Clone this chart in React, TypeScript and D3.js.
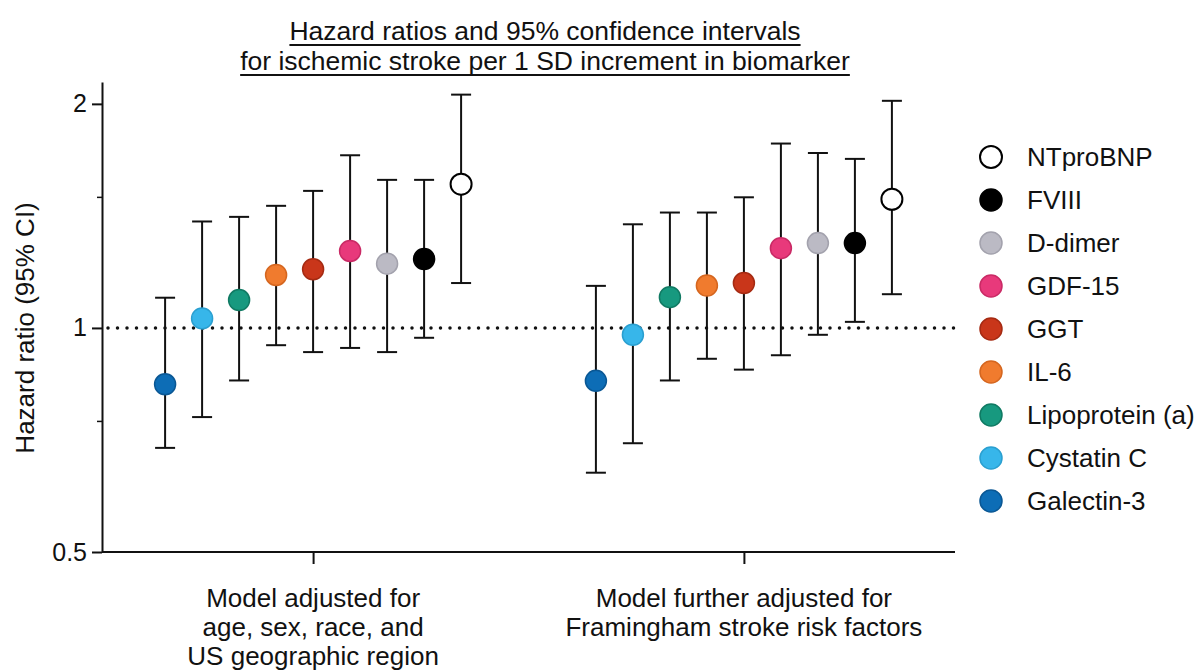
import React, { useEffect, useRef } from 'react';
import * as d3 from 'd3';

const titleLines = [
  'Hazard ratios and 95% confidence intervals',
  'for ischemic stroke per 1 SD increment in biomarker',
];
const groups = ['base', 'framingham'];
const groupLabels = [
  ['Model adjusted for', 'age, sex, race, and', 'US geographic region'],
  ['Model further adjusted for', 'Framingham stroke risk factors'],
];
const biomarkers = ['Galectin-3', 'Cystatin C', 'Lipoprotein (a)', 'IL-6', 'GGT', 'GDF-15', 'D-dimer', 'FVIII', 'NTproBNP'];
const fills = ['#0d6db6', '#37b6ea', '#17997f', '#f07b2e', '#c9361a', '#e8397b', '#bbbac4', '#000000', '#ffffff'];
const outlines = ['#0a5794', '#2a9fd0', '#107a63', '#d5661f', '#a52a12', '#c92a65', '#a3a2ad', '#000000', '#000000'];

// hazard ratio, lower and upper 95% CI, per model
const hrBase = [0.84, 1.03, 1.09, 1.178, 1.199, 1.269, 1.22, 1.238, 1.56];
const loBase = [0.69, 0.759, 0.85, 0.948, 0.928, 0.94, 0.928, 0.97, 1.149];
const hiBase = [1.098, 1.39, 1.41, 1.459, 1.528, 1.706, 1.581, 1.581, 2.058];
const hrFram = [0.849, 0.979, 1.1, 1.14, 1.149, 1.28, 1.3, 1.3, 1.489];
const loFram = [0.639, 0.7, 0.85, 0.909, 0.879, 0.919, 0.979, 1.019, 1.11];
const hiFram = [1.139, 1.378, 1.429, 1.429, 1.498, 1.769, 1.718, 1.687, 2.019];

const yTicks = [0.5, 1, 2];
const yMinorTicks = [0.75, 1.5];

const FONT = '"Liberation Sans", Arial, sans-serif';

function App() {
  const ref = useRef<SVGSVGElement>(null);

  useEffect(() => {
    const width = 1198;
    const height = 670;
    const left = 102;
    const right = 955;
    const bottom = 552;
    const top = 82;

    const svg = d3.select(ref.current);
    svg.selectAll('*').remove();
    svg.attr('width', width).attr('height', height);

    const y = d3.scaleLog().base(2).domain([0.5, 2.14]).range([bottom, top]);
    const x = d3.scalePoint<string>().domain(groups).range([left, right]).padding(0.49);
    const inner = d3.scalePoint<string>().domain(biomarkers).range([-148, 148]);

    const rows = [
      { hr: hrBase, lo: loBase, hi: hiBase },
      { hr: hrFram, lo: loFram, hi: hiFram },
    ];
    const points = groups.flatMap((g, gi) =>
      biomarkers.map((b, i) => ({
        g, b, i,
        hr: rows[gi].hr[i], lo: rows[gi].lo[i], hi: rows[gi].hi[i],
      }))
    );

    // Title
    const title = svg.append('g');
    titleLines.forEach((line, i) => {
      const t = title.append('text')
        .attr('x', 545)
        .attr('y', 40 + i * 30)
        .attr('text-anchor', 'middle')
        .style('font-family', FONT)
        .style('font-size', '26.5px')
        .attr('fill', '#111')
        .text(line);
      const w = (t.node() as SVGTextElement).getComputedTextLength();
      title.append('line')
        .attr('x1', 545 - w / 2).attr('x2', 545 + w / 2)
        .attr('y1', 45 + i * 30).attr('y2', 45 + i * 30)
        .attr('stroke', '#111').attr('stroke-width', 2);
    });

    // Y axis
    const yAxis = svg.append('g')
      .attr('transform', `translate(${left},0)`)
      .call(d3.axisLeft(y).tickValues(yTicks).tickFormat(d3.format('')).tickSize(10).tickPadding(5).tickSizeOuter(0));
    yAxis.select('.domain').attr('stroke', '#111').attr('stroke-width', 2);
    yAxis.selectAll('.tick line').attr('stroke', '#111').attr('stroke-width', 2);
    yAxis.selectAll('.tick text')
      .style('font-family', FONT).style('font-size', '25px').attr('fill', '#111');

    svg.append('g')
      .attr('transform', `translate(${left},0)`)
      .call(d3.axisLeft(y).tickValues(yMinorTicks).tickFormat(() => '').tickSize(5).tickSizeOuter(0))
      .call(g => g.select('.domain').remove())
      .selectAll('.tick line').attr('stroke', '#111').attr('stroke-width', 1.5);

    svg.append('text')
      .attr('transform', `translate(34,${y(1)}) rotate(-90)`)
      .attr('text-anchor', 'middle')
      .style('font-family', FONT)
      .style('font-size', '26px')
      .attr('fill', '#111')
      .text('Hazard ratio (95% CI)');

    // X axis
    const xAxis = svg.append('g')
      .attr('transform', `translate(0,${bottom})`)
      .call(d3.axisBottom(x).tickFormat(() => '').tickSize(12).tickSizeOuter(0));
    xAxis.select('.domain').attr('stroke', '#111').attr('stroke-width', 2)
      .attr('d', `M${left},0H${right}`);
    xAxis.selectAll('.tick line').attr('stroke', '#111').attr('stroke-width', 2);

    groups.forEach((g, gi) => {
      const t = svg.append('text')
        .attr('text-anchor', 'middle')
        .style('font-family', FONT)
        .style('font-size', '26px')
        .attr('fill', '#111');
      groupLabels[gi].forEach((line, li) => {
        t.append('tspan').attr('x', x(g)!).attr('y', 607 + li * 29).text(line);
      });
    });

    // Reference line at HR = 1
    svg.append('line')
      .attr('x1', left + 6).attr('x2', right)
      .attr('y1', y(1)).attr('y2', y(1))
      .attr('stroke', '#111')
      .attr('stroke-width', 3.5)
      .attr('stroke-linecap', 'round')
      .attr('stroke-dasharray', '0 9.5');

    // Error bars
    const bars = svg.append('g').attr('stroke', '#111').attr('stroke-width', 2).attr('fill', 'none');
    const cx = (d: typeof points[number]) => x(d.g)! + inner(d.b)!;
    bars.selectAll('line.v').data(points).enter().append('line')
      .attr('x1', cx).attr('x2', cx)
      .attr('y1', d => y(d.lo)).attr('y2', d => y(d.hi));
    bars.selectAll('line.lo').data(points).enter().append('line')
      .attr('x1', d => cx(d) - 10).attr('x2', d => cx(d) + 10)
      .attr('y1', d => y(d.lo)).attr('y2', d => y(d.lo));
    bars.selectAll('line.hi').data(points).enter().append('line')
      .attr('x1', d => cx(d) - 10).attr('x2', d => cx(d) + 10)
      .attr('y1', d => y(d.hi)).attr('y2', d => y(d.hi));

    // Markers
    svg.append('g').selectAll('circle').data(points).enter().append('circle')
      .attr('cx', cx)
      .attr('cy', d => y(d.hr))
      .attr('r', 10.5)
      .attr('fill', d => fills[d.i])
      .attr('stroke', d => outlines[d.i])
      .attr('stroke-width', d => (d.i === 8 ? 2 : 1.5));

    // Legend
    const legend = svg.append('g').attr('transform', 'translate(991,157)');
    const legendOrder = biomarkers.map((b, i) => ({ b, i })).reverse();
    const ly = d3.scalePoint<string>().domain(legendOrder.map(d => d.b)).range([0, 344]);
    const item = legend.selectAll('g').data(legendOrder).enter().append('g')
      .attr('transform', d => `translate(0,${ly(d.b)})`);
    item.append('circle')
      .attr('r', 11)
      .attr('fill', d => fills[d.i])
      .attr('stroke', d => outlines[d.i])
      .attr('stroke-width', d => (d.i === 8 ? 2 : 1.5));
    item.append('text')
      .attr('x', 36)
      .attr('y', 9)
      .style('font-family', FONT)
      .style('font-size', '26px')
      .attr('fill', '#111')
      .text(d => d.b);
  }, []);

  return <svg ref={ref} style={{ position: 'absolute', left: 0, top: 0, background: '#fff' }} />;
}

export default App;
